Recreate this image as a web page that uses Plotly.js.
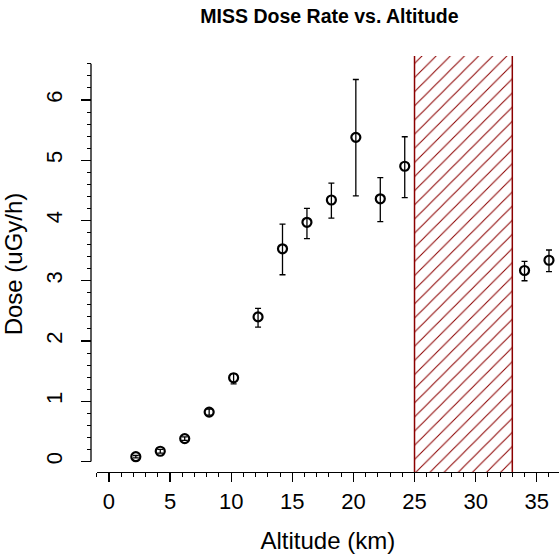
<!DOCTYPE html>
<html>
<head>
<meta charset="utf-8">
<script src="https://cdn.plot.ly/plotly-3.0.1.min.js"></script>
<style>html,body{margin:0;padding:0;background:#fff;}#chart{width:559px;height:554px;}</style>
</head>
<body>
<div id="chart"></div>
<script>
// Data
var altitude = [2.2, 4.2, 6.2, 8.2, 10.2, 12.2, 14.2, 16.2, 18.2, 20.2, 22.2, 24.2, 34, 36];
var dose     = [0.08, 0.17, 0.38, 0.82, 1.39, 2.40, 3.53, 3.97, 4.34, 5.38, 4.36, 4.90, 3.17, 3.34];
var doseHigh = [0.10, 0.20, 0.41, 0.87, 1.46, 2.54, 3.94, 4.20, 4.62, 6.34, 4.71, 5.39, 3.32, 3.51];
var doseLow  = [0.06, 0.14, 0.35, 0.77, 1.29, 2.23, 3.10, 3.70, 4.04, 4.41, 3.98, 4.38, 3.00, 3.15];
var bandStart = 25;   // km, start of hatched gap
var bandEnd   = 33;   // km, end of hatched gap
var xTicks = [0, 5, 10, 15, 20, 25, 30, 35];
var yTicks = [0, 1, 2, 3, 4, 5, 6];

var xRange = [-1, 36.82];
var yRange = [-0.174, 6.73];
var yAxisTop = 6.6;

var errPlus = doseHigh.map(function (h, i) { return h - dose[i]; });
var errMinus = dose.map(function (d, i) { return d - doseLow[i]; });

var font = "Liberation Sans, Arial, sans-serif";
var red = "#8B0000";

var band = {
  type: "bar",
  x: [(bandStart + bandEnd) / 2],
  width: [bandEnd - bandStart],
  base: [yRange[0] - 1],
  y: [yRange[1] - yRange[0] + 2],
  marker: {
    color: "rgba(0,0,0,0)",
    line: {color: red, width: 1.5},
    pattern: {shape: "/", size: 10, solidity: 0.1, fgcolor: red, bgcolor: "rgba(0,0,0,0)", fillmode: "replace"}
  },
  hoverinfo: "skip",
  showlegend: false
};

var pts = {
  type: "scatter",
  mode: "markers",
  x: altitude,
  y: dose,
  cliponaxis: false,
  marker: {symbol: "circle-open", size: 9, color: "#000", line: {width: 2.2, color: "#000"}},
  error_y: {type: "data", symmetric: false, array: errPlus, arrayminus: errMinus, color: "#000", thickness: 1.3, width: 3},
  showlegend: false
};

var layout = {
  width: 559,
  height: 554,
  margin: {l: 91, r: 0, t: 56, b: 82},
  paper_bgcolor: "#fff",
  plot_bgcolor: "#fff",
  font: {family: font, color: "#000"},
  showlegend: false,
  bargap: 0,
  title: {
    text: "<b>MISS Dose Rate vs. Altitude</b>",
    font: {family: font, size: 19.5, color: "#000"},
    xref: "container", x: 329.5 / 559, xanchor: "center",
    yref: "container", y: 1 - 16.3 / 554, yanchor: "middle"
  },
  xaxis: {
    domain: [5.7 / 468, 1],
    range: xRange,
    showgrid: false,
    zeroline: false,
    showline: true,
    linecolor: "#000",
    linewidth: 1.3,
    tickmode: "array",
    tickvals: xTicks,
    ticktext: xTicks.map(String),
    ticks: "outside",
    ticklen: 9,
    tickwidth: 1.2,
    tickcolor: "#000",
    minor: {dtick: 1, tick0: 0, ticks: "outside", ticklen: 4, tickwidth: 1, tickcolor: "#000", showgrid: false},
    tickfont: {family: font, size: 22, color: "#000"},
    title: {text: "Altitude (km)", font: {family: font, size: 24, color: "#000"}, standoff: 19}
  },
  yaxis: {
    anchor: "free",
    position: 0,
    range: yRange,
    showgrid: false,
    zeroline: false,
    showline: false,
    tickmode: "array",
    tickvals: yTicks,
    ticktext: yTicks.map(String),
    ticks: "outside",
    ticklen: 10,
    tickwidth: 1.2,
    tickcolor: "#000",
    tickangle: -90,
    ticklabelstandoff: 10,
    minor: {dtick: 0.2, tick0: 0, ticks: "outside", ticklen: 4.3, tickwidth: 1, tickcolor: "#000", showgrid: false},
    tickfont: {family: font, size: 22, color: "#000"},
    title: {text: "Dose (uGy/h)", font: {family: font, size: 24, color: "#000"}, standoff: 18}
  },
  shapes: [{
    type: "line", xref: "paper", yref: "y",
    x0: 0, x1: 0, y0: yTicks[0], y1: yAxisTop,
    line: {color: "#000", width: 1.3}
  }]
};

Plotly.newPlot("chart", [band, pts], layout, {staticPlot: true, displayModeBar: false});
</script>
</body>
</html>
